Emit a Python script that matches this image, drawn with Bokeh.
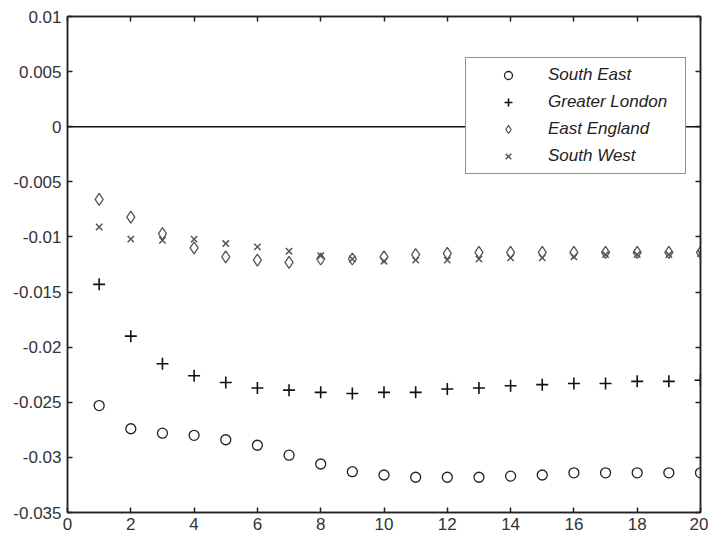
from bokeh.plotting import figure
from bokeh.models import Span, LinearAxis, Legend, LegendItem, FixedTicker, Range1d
from bokeh.embed import file_html
from bokeh.resources import INLINE

steps = list(range(1, 21))
south_east = [-0.0253, -0.0274, -0.0278, -0.0280, -0.0284, -0.0289, -0.0298, -0.0306, -0.0313, -0.0316,
              -0.0318, -0.0318, -0.0318, -0.0317, -0.0316, -0.0314, -0.0314, -0.0314, -0.0314, -0.0314]
greater_london = [-0.0143, -0.0190, -0.0215, -0.0226, -0.0232, -0.0237, -0.0239, -0.0241, -0.0242, -0.0241,
                  -0.0241, -0.0238, -0.0237, -0.0235, -0.0234, -0.0233, -0.0233, -0.0231, -0.0231, -0.0230]
east_england = [-0.0066, -0.0082, -0.0097, -0.0110, -0.0118, -0.0121, -0.0123, -0.0120, -0.0120, -0.0118,
                -0.0116, -0.0115, -0.0114, -0.0114, -0.0114, -0.0114, -0.0114, -0.0114, -0.0114, -0.0114]
south_west = [-0.0091, -0.0102, -0.0103, -0.0102, -0.0106, -0.0109, -0.0113, -0.0117, -0.0120, -0.0122,
              -0.0121, -0.0121, -0.0120, -0.0119, -0.0119, -0.0118, -0.0116, -0.0116, -0.0116, -0.0115]

x_ticks = [0, 2, 4, 6, 8, 10, 12, 14, 16, 18, 20]
y_ticks = [-0.035, -0.03, -0.025, -0.02, -0.015, -0.01, -0.005, 0, 0.005, 0.01]
y_labels = {-0.035: "-0.035", -0.03: "-0.03", -0.025: "-0.025", -0.02: "-0.02", -0.015: "-0.015",
            -0.01: "-0.01", -0.005: "-0.005", 0: "0", 0.005: "0.005", 0.01: "0.01"}

p = figure(width=708, height=539, output_backend="svg", toolbar_location=None,
           x_range=Range1d(0, 20), y_range=Range1d(-0.035, 0.01),
           min_border_left=67, min_border_top=16, min_border_right=8, min_border_bottom=27,
           x_axis_location=None, y_axis_location=None)
p.grid.visible = False
p.outline_line_color = "#222222"
p.outline_line_width = 1.5
p.background_fill_color = "white"
p.border_fill_color = "white"

font = "Liberation Sans"

def style_axis(ax, show_labels):
    ax.major_tick_in = 5
    ax.major_tick_out = 0
    ax.minor_tick_in = 0
    ax.minor_tick_out = 0
    ax.axis_line_color = "#222222"
    ax.axis_line_width = 1.5
    ax.major_tick_line_color = "#222222"
    ax.major_tick_line_width = 1.5
    ax.major_label_text_font = font
    ax.major_label_text_font_size = "17px"
    ax.major_label_text_color = "#333333"
    if not show_labels:
        ax.major_label_text_alpha = 0
        ax.major_label_text_font_size = "1px"

left = LinearAxis(ticker=FixedTicker(ticks=y_ticks), major_label_overrides={k: v for k, v in y_labels.items()})
style_axis(left, True)
left.major_label_standoff = 6
bottom = LinearAxis(ticker=FixedTicker(ticks=x_ticks))
style_axis(bottom, True)
bottom.major_label_standoff = 5
right = LinearAxis(ticker=FixedTicker(ticks=y_ticks))
style_axis(right, False)
top = LinearAxis(ticker=FixedTicker(ticks=x_ticks))
style_axis(top, False)
p.add_layout(left, "left")
p.add_layout(bottom, "below")
p.add_layout(right, "right")
p.add_layout(top, "above")

p.add_layout(Span(location=0, dimension="width", line_color="#111111", line_width=1.5))

r1 = p.scatter(steps, south_east, marker="circle", size=10, fill_color=None,
               line_color="#222222", line_width=1.3)
r2 = p.scatter(steps, greater_london, marker="cross", size=12, line_color="#111111", line_width=1.6)
r3 = p.scatter(steps, east_england, marker="diamond", size=12, fill_color=None,
               line_color="#555555", line_width=1.3)
r4 = p.scatter(steps, south_west, marker="x", size=9, line_color="#555555", line_width=1.5)

legend = Legend(items=[LegendItem(label="South East", renderers=[r1]),
                       LegendItem(label="Greater London", renderers=[r2]),
                       LegendItem(label="East England", renderers=[r3]),
                       LegendItem(label="South West", renderers=[r4])],
                location=(398, 338), orientation="vertical",
                glyph_width=70, glyph_height=20, label_height=20, label_width=130,
                label_standoff=5, spacing=7, padding=7, margin=0,
                label_text_font=font, label_text_font_style="italic", label_text_font_size="17px",
                label_text_color="#222222",
                border_line_color="#222222", border_line_width=1.5,
                background_fill_color="white", background_fill_alpha=1)
p.add_layout(legend, "center")

open("out.html", "w").write(file_html(p, INLINE))
